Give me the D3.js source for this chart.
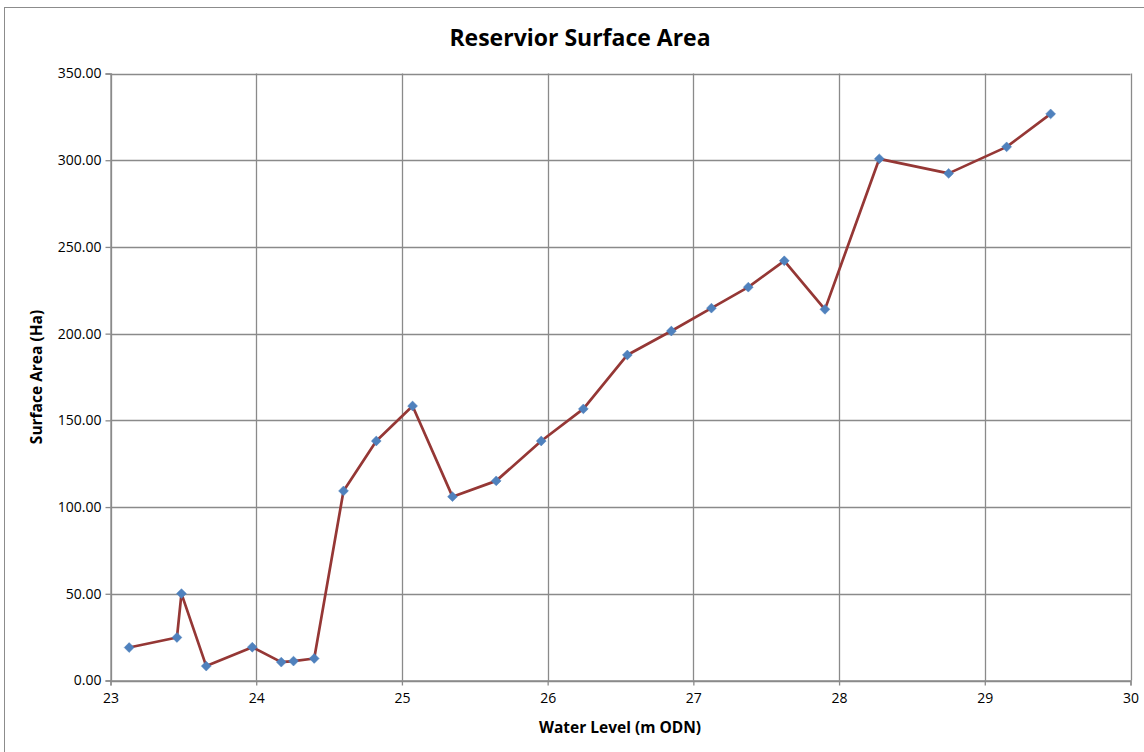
<!DOCTYPE html>
<html><head><meta charset="utf-8">
<script src="https://cdn.jsdelivr.net/npm/d3@7"></script>
<style>body{margin:0;background:#fff}svg{display:block}</style>
</head><body>
<svg id="c" width="1144" height="752"></svg>
<script>
const waterLevel = [23.128, 23.456, 23.487, 23.657, 23.973, 24.172, 24.256, 24.398, 24.599, 24.824, 25.073, 25.347, 25.647, 25.956, 26.245, 26.547, 26.849, 27.124, 27.377, 27.624, 27.903, 28.276, 28.752, 29.150, 29.452];
const surfaceArea = [19.0, 24.8, 50.1, 8.3, 19.2, 10.6, 11.2, 12.7, 109.3, 138.1, 158.3, 106.0, 115.1, 138.1, 156.6, 187.7, 201.5, 214.7, 226.8, 242.0, 214.0, 300.8, 292.4, 307.7, 326.7];
const xTicks = [23, 24, 25, 26, 27, 28, 29, 30];
const yTicks = [0, 50, 100, 150, 200, 250, 300, 350];

const svg = d3.select("#c");
const font = "'Open Sans', 'Liberation Sans', sans-serif";
const m = {l:110.5, r:1130.5, t:73.5, b:680.5};
const x = d3.scaleLinear().domain([23,30]).range([m.l, m.r]);
const y = d3.scaleLinear().domain([0,350]).range([m.b, m.t]);

svg.append("rect").attr("x",4.5).attr("y",7.5).attr("width",1150).attr("height",760)
  .attr("fill","#fff").attr("stroke","#8c8c8c").attr("stroke-width",1);

// grid
svg.append("g").selectAll("line").data(yTicks).join("line")
  .attr("x1",m.l).attr("x2",m.r).attr("y1",d=>Math.round(y(d))+0.5).attr("y2",d=>Math.round(y(d))+0.5)
  .attr("stroke","#8a8a8a").attr("stroke-width",1.3);
svg.append("g").selectAll("line").data(xTicks).join("line")
  .attr("y1",m.t).attr("y2",m.b).attr("x1",d=>Math.round(x(d))+0.5).attr("x2",d=>Math.round(x(d))+0.5)
  .attr("stroke","#8a8a8a").attr("stroke-width",1.3);

// axes
const yAxis = d3.axisLeft(y).tickValues(yTicks).tickFormat(d3.format(".2f")).tickSize(5).tickPadding(4);
const gy = svg.append("g").attr("transform",`translate(${m.l},0)`).call(yAxis);
const xAxis = d3.axisBottom(x).tickValues(xTicks).tickFormat(d3.format("d")).tickSize(5).tickPadding(8);
const gx = svg.append("g").attr("transform",`translate(0,${m.b})`).call(xAxis);
[gx,gy].forEach(g=>{
  g.select(".domain").attr("stroke","#8a8a8a").attr("stroke-width",1.3);
  g.selectAll(".tick line").attr("stroke","#8a8a8a").attr("stroke-width",1.3);
  g.selectAll("text").attr("font-family",font).attr("font-size",14).attr("fill","#000");
});

// line
const line = d3.line().x((d,i)=>x(waterLevel[i])).y(d=>y(d));
svg.append("path").datum(surfaceArea).attr("d",line).attr("fill","none")
  .attr("stroke","#953735").attr("stroke-width",2.7).attr("stroke-linejoin","round");

// markers
const sym = d3.symbol().type(d3.symbolDiamond2).size(62);
svg.append("g").selectAll("path").data(surfaceArea).join("path")
  .attr("d",sym).attr("transform",(d,i)=>`translate(${x(waterLevel[i])},${y(d)})`)
  .attr("fill","#4f81bd").attr("stroke","#4a7ebb").attr("stroke-width",0.5);

// titles
svg.append("text").attr("x",580).attr("y",46).attr("text-anchor","middle")
  .attr("font-family",font).attr("font-weight","bold").attr("font-size",23).text("Reservior Surface Area");
svg.append("text").attr("x",620).attr("y",733).attr("text-anchor","middle")
  .attr("font-family",font).attr("font-weight","bold").attr("font-size",15.5).text("Water Level (m ODN)");
svg.append("text").attr("transform",`translate(42,377) rotate(-90)`).attr("text-anchor","middle")
  .attr("font-family",font).attr("font-weight","bold").attr("font-size",15.5).text("Surface Area (Ha)");
</script>
</body></html>
